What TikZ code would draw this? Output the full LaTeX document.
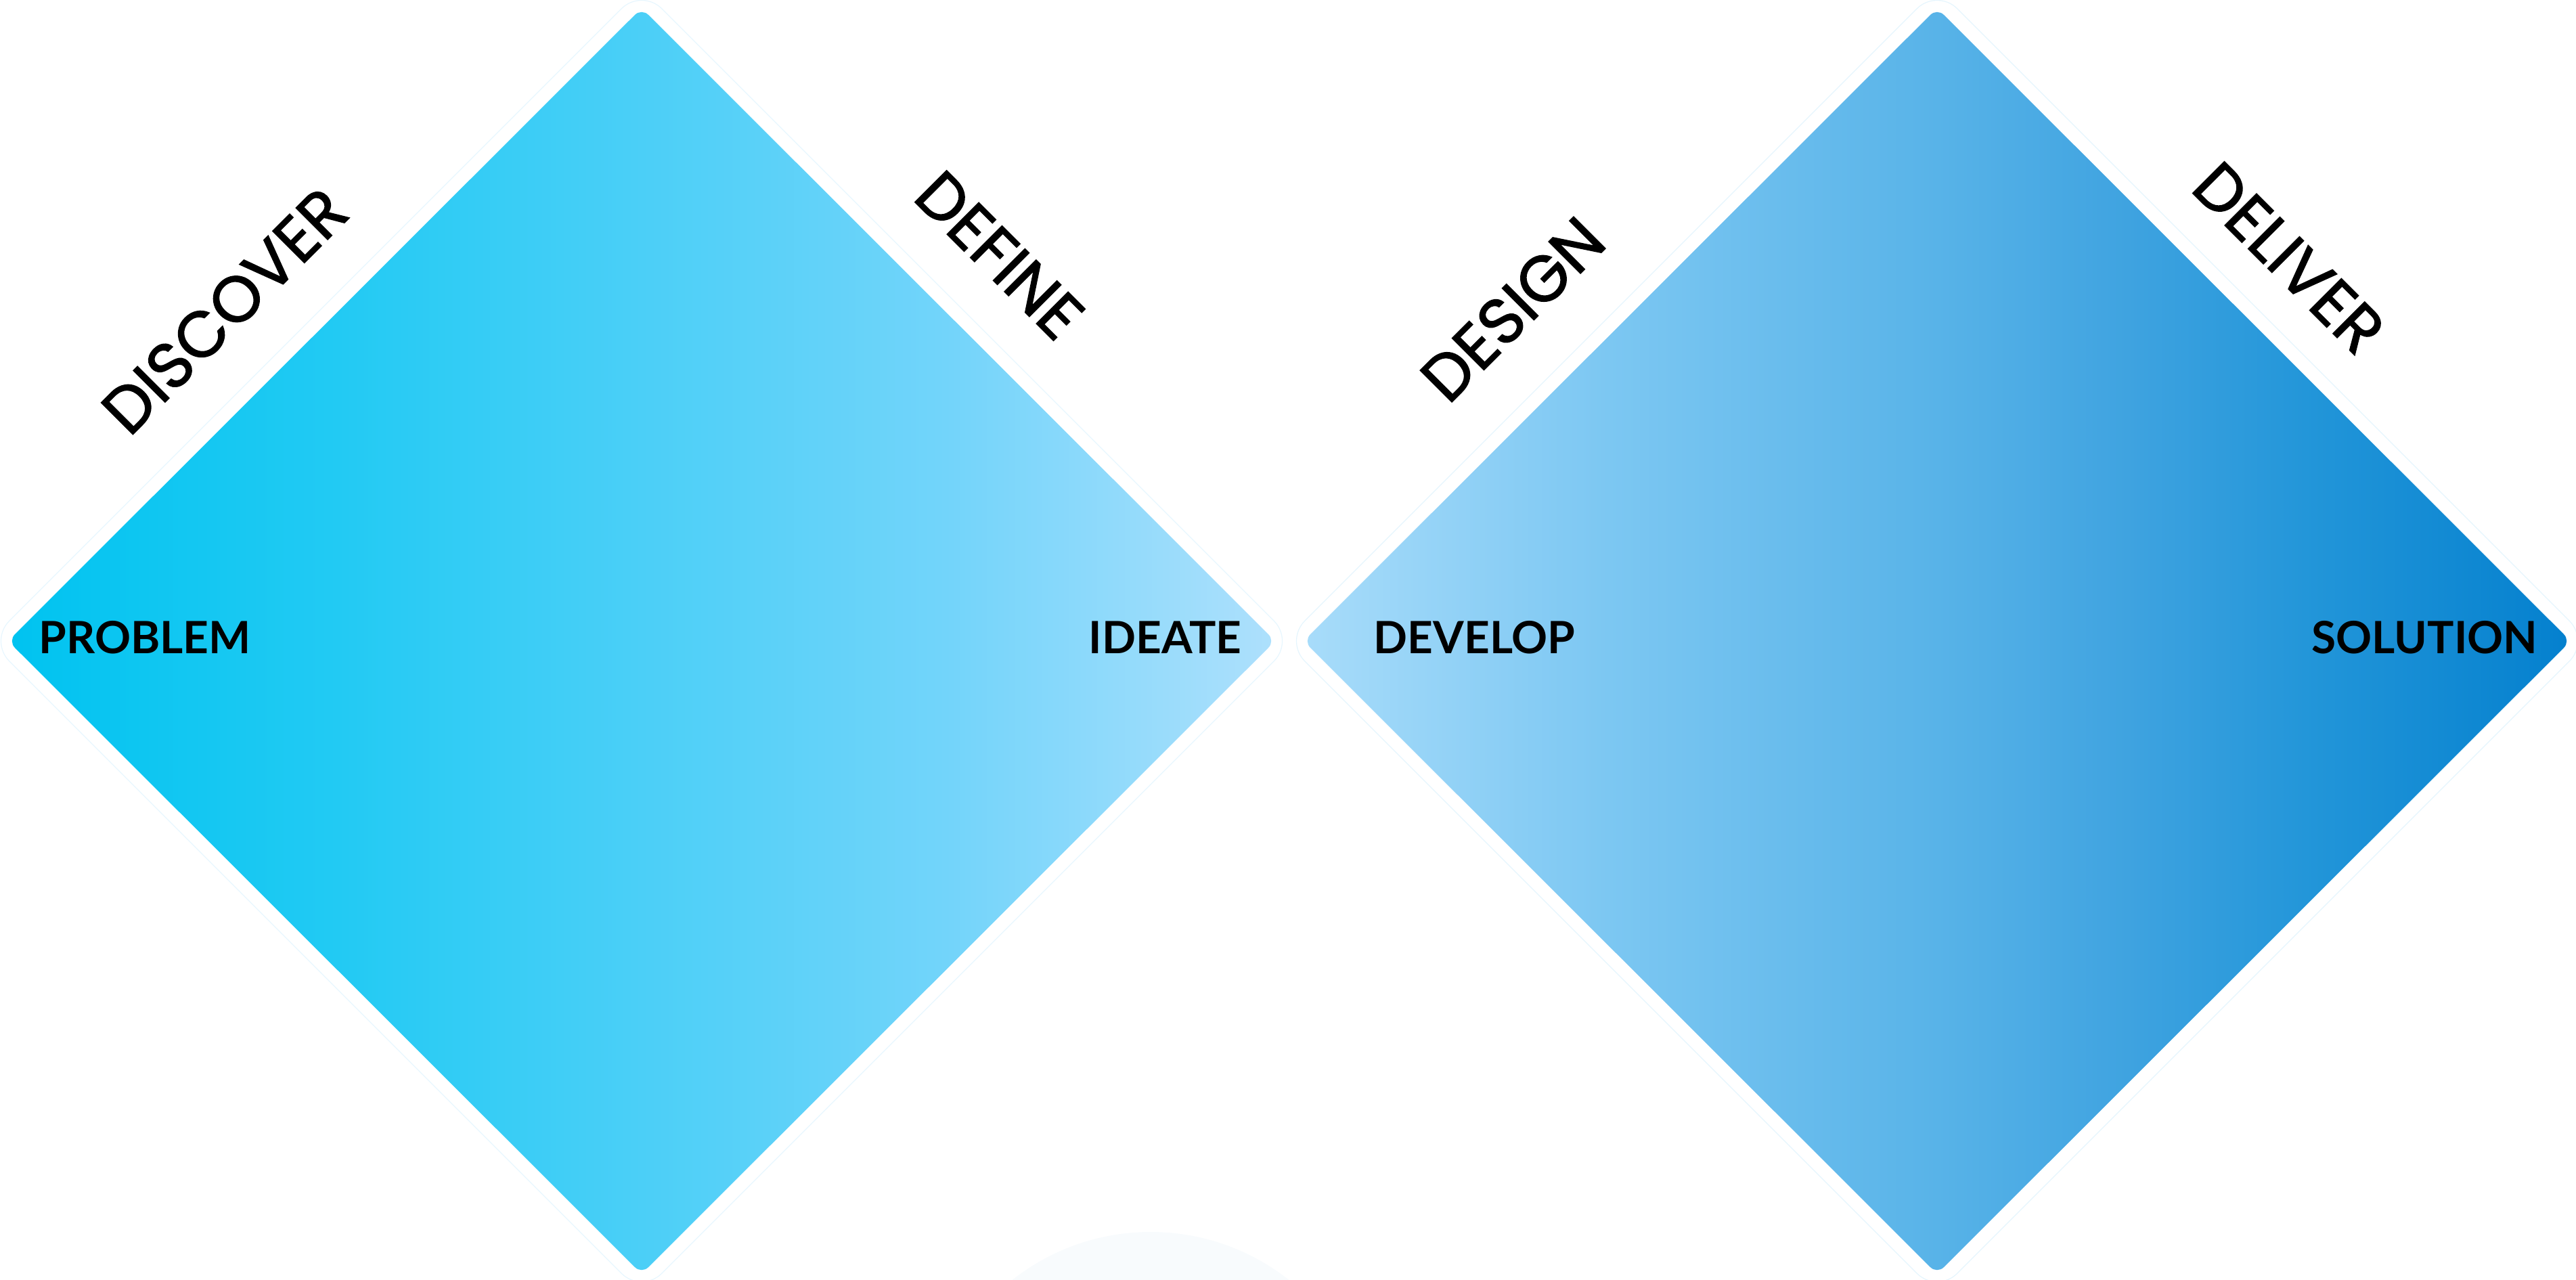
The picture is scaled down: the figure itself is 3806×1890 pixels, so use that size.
\documentclass[tikz,border=0pt]{standalone}
\usepackage{fontspec}
\setmainfont{Lato}
\newfontfamily\phasefont{Poppins}[FakeBold=1.6]
\usetikzlibrary{calc}

% Farben
\definecolor{cyanA}{HTML}{00C3F0}
\definecolor{cyanB}{HTML}{22CAF3}
\definecolor{cyanC}{HTML}{4BCFF7}
\definecolor{cyanD}{HTML}{72D4FA}
\definecolor{cyanE}{HTML}{AEE0FC}
\definecolor{blueA}{HTML}{A8DCFA}
\definecolor{blueB}{HTML}{7CC7F2}
\definecolor{blueC}{HTML}{58B3E8}
\definecolor{blueD}{HTML}{3FA3E0}
\definecolor{blueE}{HTML}{2396D9}
\definecolor{blueF}{HTML}{0480CE}
\definecolor{haze}{HTML}{F8FBFD}

% Verlaeufe (Pfad liegt zwischen 25bp und 75bp)
\pgfdeclarehorizontalshading{leftfill}{100bp}{color(0bp)=(cyanA); color(25bp)=(cyanA);
  color(38bp)=(cyanB); color(50bp)=(cyanC); color(62bp)=(cyanD); color(75bp)=(cyanE);
  color(100bp)=(cyanE)}
\pgfdeclarehorizontalshading{rightfill}{100bp}{color(0bp)=(blueA); color(25bp)=(blueA);
  color(37bp)=(blueB); color(50bp)=(blueC); color(57.5bp)=(blueD); color(64.5bp)=(blueE);
  color(75bp)=(blueF); color(100bp)=(blueF)}

\begin{document}
\begin{tikzpicture}[
      x=0.01cm, y=-0.01cm, % 1 Einheit = 1 Pixel, y nach unten
      raute/.style={rounded corners=4pt}, % Style for the filled diamonds
      rand/.style={line width=0.35pt, rounded corners=12pt}, % faint outer outline
      phase/.style={font=\phasefont\fontsize{27}{27}\selectfont, inner sep=0pt},
      ende/.style={font=\bfseries\fontsize{18.7}{18.7}\selectfont, inner sep=0pt},
    ]

    \useasboundingbox (0,0) rectangle (3806,1890);
    \clip (0,0) rectangle (3806,1890);

    % Hintergrund
    \fill[haze] (1700,2150) circle (330);

    % Mittelpunkte der Rauten
    \coordinate (M1) at (948,947);
    \coordinate (M2) at (2862,947);

    % Rauten mit Umriss
    \foreach \m/\s/\c in {M1/leftfill/cyanE!30, M2/rightfill/blueA!30}{
      \draw[rand, \c] ($(\m)+(-964,0)$) -- ++(964,-964) -- ++(964,964)
        -- ++(-964,964) -- cycle;
      \shade[raute, shading=\s] ($(\m)+(-936,0)$) -- ++(936,-935) -- ++(936,935)
        -- ++(-936,935) -- cycle;
    }

    % Phasen an den Kanten
    \node[phase, rotate=45] (discover) at (332,459) {DISCOVER};
    \node[phase, rotate=-45] (define) at (1477,377) {DEFINE};
    \node[phase, rotate=45] (design) at (2235,457) {DESIGN};
    \node[phase, rotate=-45] (deliver) at (3382,381) {DELIVER};

    % Spitzen
    \node[ende, anchor=base west] (problem) at (57,965) {PROBLEM};
    \node[ende, anchor=base east] (ideate) at (1835,965) {IDEATE};
    \node[ende, anchor=base west] (develop) at (2029,965) {DEVELOP};
    \node[ende, anchor=base east] (solution) at (3750,965) {SOLUTION};
  \end{tikzpicture}
\end{document}
